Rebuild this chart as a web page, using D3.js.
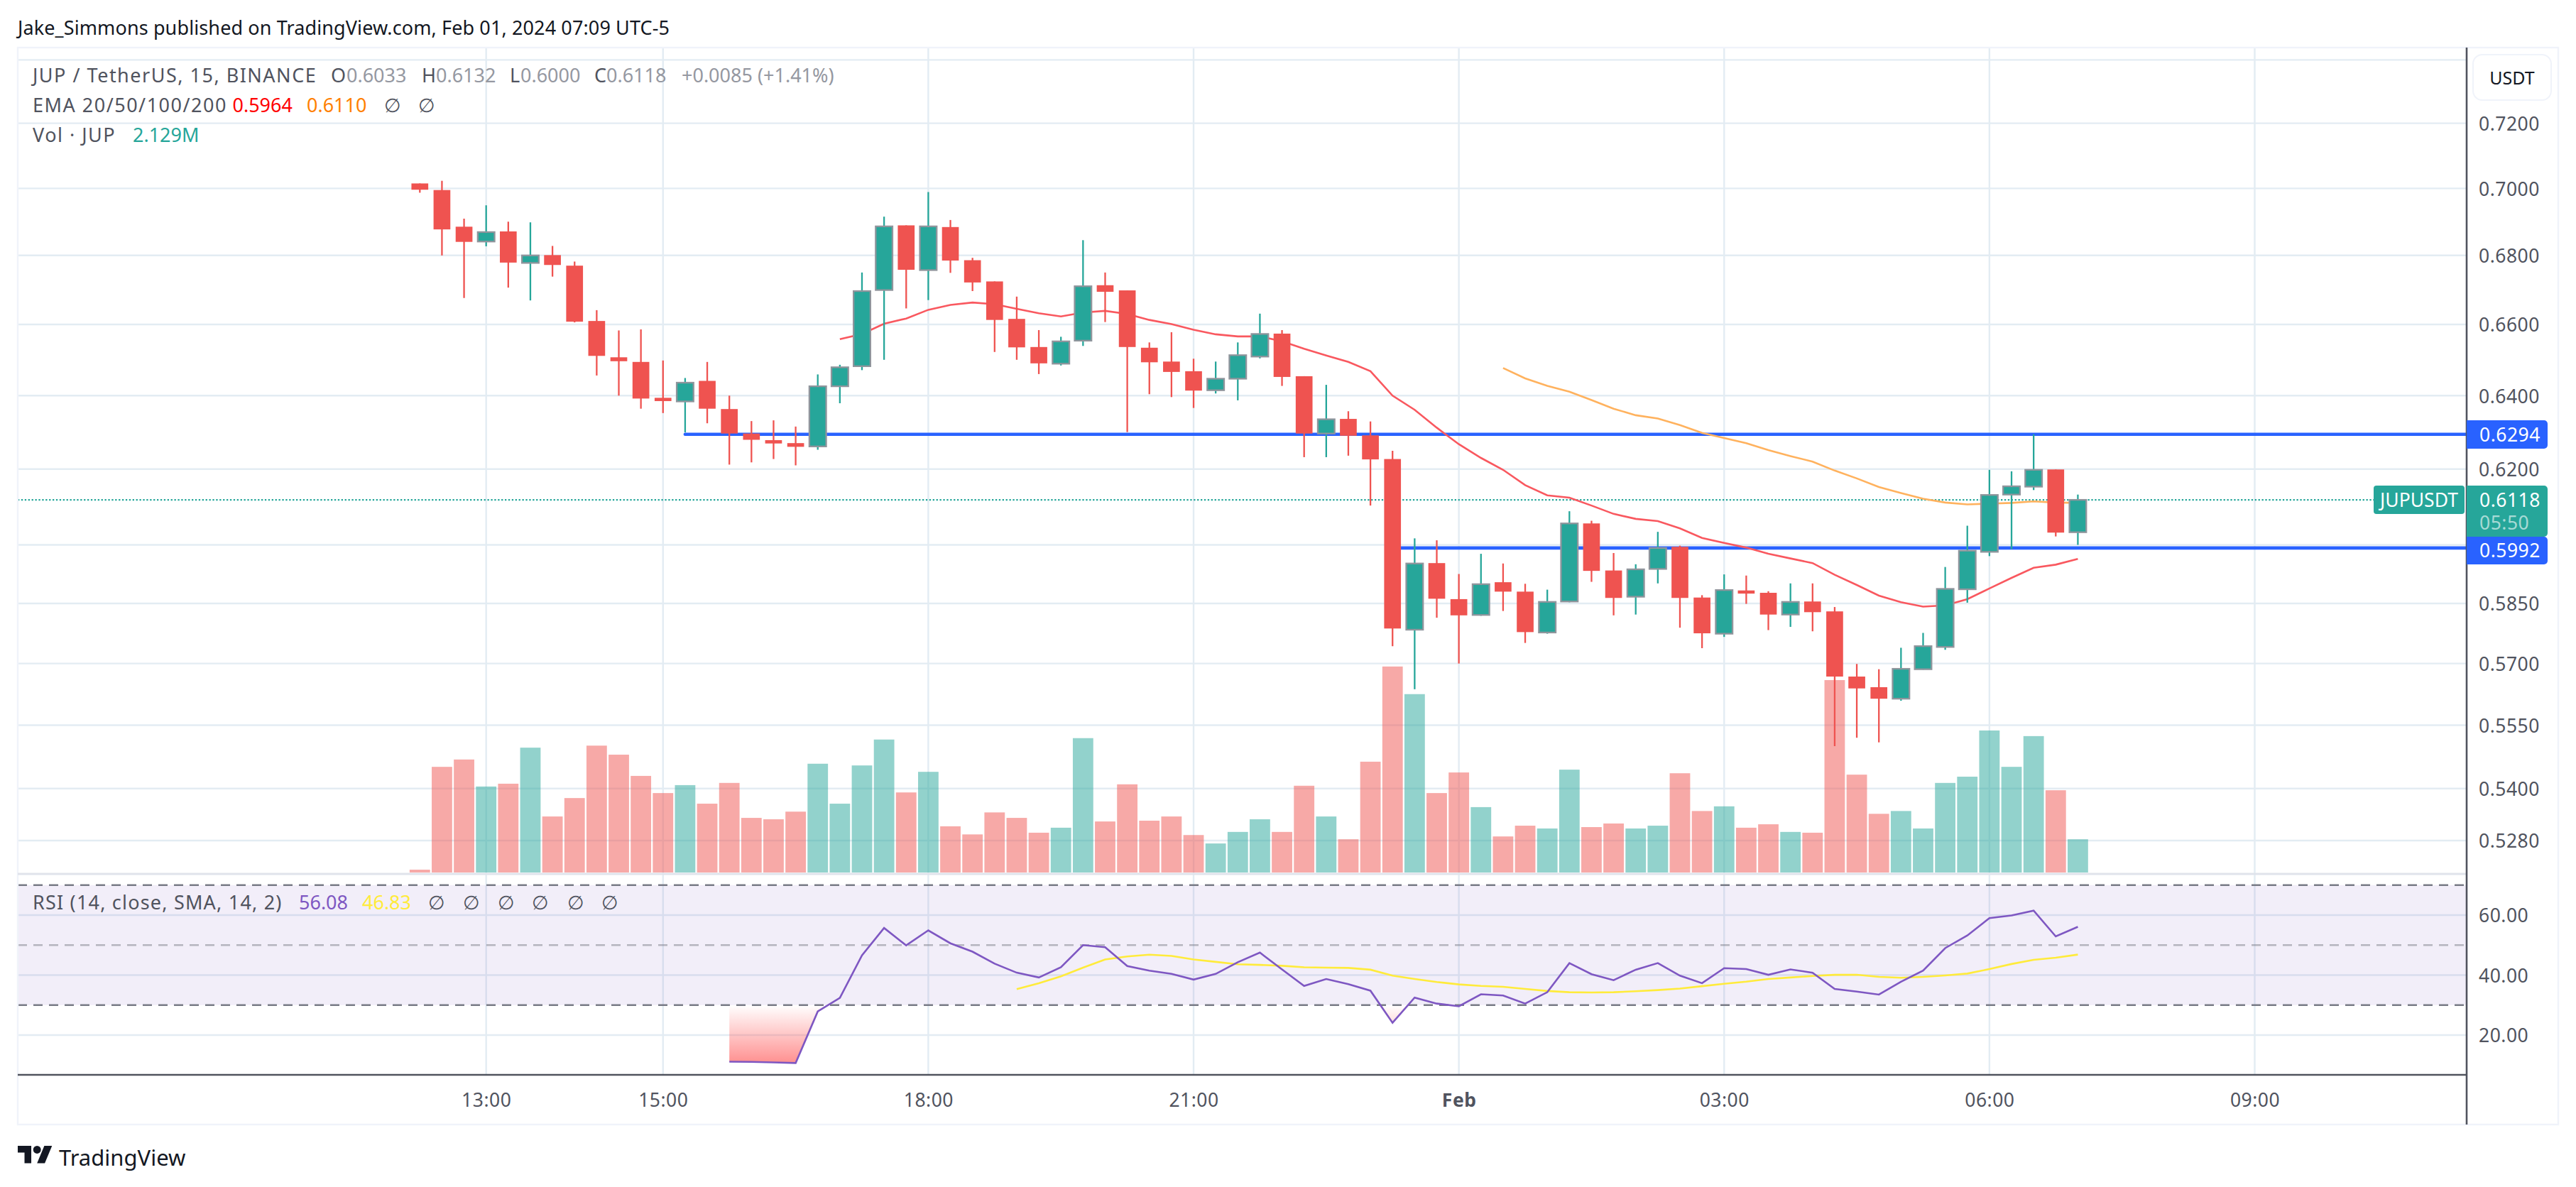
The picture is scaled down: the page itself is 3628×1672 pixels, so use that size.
<!DOCTYPE html>
<html><head><meta charset="utf-8">
<script src="https://cdnjs.cloudflare.com/ajax/libs/d3/7.8.5/d3.min.js"></script>
<style>
html,body{margin:0;padding:0;background:#fff}
svg{display:block}
text{font-family:"Noto Sans",sans-serif}
.tick text{font-family:"Noto Sans",sans-serif}
</style></head><body>
<script>
const opens=[.7015,.6995,.6885,.6841,.6871,.6778,.6801,.6770,.6610,.6507,.6494,.6394,.6384,.6441,.6363,.6296,.6278,.6270,.6261,.6426,.6482,.6699,.6889,.6757,.6884,.6786,.6724,.6616,.6536,.6489,.6554,.6713,.6698,.6534,.6495,.6468,.6415,.6447,.6509,.6574,.6454,.6296,.6336,.6291,.6227,.5784,.5953,.5861,.5821,.5904,.5880,.5777,.5855,.6056,.5934,.5867,.5938,.5995,.5865,.5774,.5883,.5877,.5822,.5855,.5830,.5668,.5642,.5614,.5686,.5741,.5886,.5982,.6132,.6153,.6199,.6033];
const highs=[.7015,.7023,.6909,.6949,.6900,.6898,.6828,.6782,.6641,.6583,.6586,.6498,.6449,.6494,.6400,.6330,.6332,.6315,.6459,.6486,.6750,.6915,.6889,.6989,.6905,.6793,.6724,.6680,.6584,.6565,.6845,.6750,.6698,.6549,.6578,.6503,.6495,.6549,.6631,.6584,.6454,.6430,.6357,.6329,.6249,.6017,.6012,.5925,.5977,.5952,.5900,.5885,.6088,.6063,.5979,.5950,.6034,.5998,.5871,.5924,.5921,.5881,.5901,.5901,.5841,.5699,.5686,.5739,.5776,.5943,.6050,.6198,.6194,.6294,.6199,.6132];
const lows=[.6987,.6800,.6676,.6827,.6706,.6669,.6738,.6606,.6456,.6400,.6364,.6352,.6299,.6324,.6212,.6218,.6227,.6210,.6252,.6379,.6471,.6500,.6646,.6670,.6749,.6696,.6522,.6500,.6460,.6484,.6539,.6607,.6300,.6404,.6396,.6366,.6406,.6387,.6504,.6427,.6232,.6232,.6236,.6103,.5743,.5637,.5814,.5700,.5819,.5831,.5751,.5774,.5853,.5905,.5820,.5822,.5901,.5789,.5738,.5766,.5849,.5783,.5791,.5780,.5500,.5520,.5509,.5609,.5685,.5734,.5852,.5971,.5989,.6144,.6022,.6000];
const closes=[.6996,.6877,.6840,.6869,.6779,.6800,.6772,.6608,.6511,.6496,.6392,.6385,.6436,.6364,.6296,.6279,.6269,.6260,.6426,.6479,.6696,.6886,.6758,.6886,.6785,.6721,.6613,.6535,.6490,.6552,.6710,.6694,.6536,.6493,.6466,.6414,.6447,.6513,.6573,.6452,.6296,.6335,.6290,.6226,.5787,.5952,.5862,.5820,.5899,.5880,.5778,.5854,.6056,.5933,.5864,.5937,.5992,.5864,.5775,.5884,.5875,.5822,.5854,.5828,.5668,.5639,.5614,.5687,.5743,.5887,.5985,.6131,.6154,.6198,.6032,.6118];
const volumes=[.18,6.77,7.24,5.51,5.69,8.00,3.59,4.77,8.13,7.55,6.19,5.09,5.60,4.41,5.74,3.50,3.41,3.90,6.97,4.41,6.86,8.52,5.13,6.45,2.96,2.44,3.85,3.50,2.55,2.87,8.61,3.27,5.65,3.32,3.59,2.40,1.86,2.60,3.41,2.60,5.56,3.59,2.13,7.10,13.20,11.43,5.09,6.41,4.19,2.31,3.00,2.82,6.59,2.91,3.14,2.82,3.00,6.36,3.94,4.24,2.87,3.09,2.60,2.55,12.33,6.27,3.76,3.94,2.82,5.74,6.14,9.10,6.77,8.74,5.27,2.129];
const n=null;
const ema20=[n,n,n,n,n,n,n,n,n,n,n,n,n,n,n,n,n,n,n,.6558,.6573,.6602,.6617,.6642,.6656,.6663,.6658,.6645,.6632,.6623,.6634,.6639,.6630,.6613,.6601,.6585,.6572,.6566,.6566,.6552,.6531,.6512,.6494,.6468,.6400,.6361,.6312,.6267,.6230,.6198,.6157,.6130,.6124,.6103,.6081,.6068,.6062,.6043,.6018,.6005,.5993,.5977,.5965,.5953,.5923,.5897,.5870,.5853,.5842,.5845,.5861,.5888,.5915,.5941,.5949,.5964];
const ema50=[n,n,n,n,n,n,n,n,n,n,n,n,n,n,n,n,n,n,n,n,n,n,n,n,n,n,n,n,n,n,n,n,n,n,n,n,n,n,n,n,n,n,n,n,n,n,n,n,n,.6477,.6448,.6427,.6411,.6388,.6364,.6346,.6337,.6319,.6298,.6284,.6270,.6251,.6235,.6220,.6196,.6175,.6152,.6136,.6121,.6111,.6106,.6108,.6110,.6114,.6111,.6110];
const rsi=[n,n,n,n,n,n,n,n,n,n,n,n,n,n,11.14,11.05,10.9,10.68,27.9,32.4,46.6,55.7,49.9,54.9,50.6,47.8,43.8,40.8,39.2,42.6,50.0,49.3,43.0,41.5,40.4,38.5,40.4,44.3,47.5,41.9,36.4,38.7,37.0,34.8,24.1,32.5,30.5,29.6,33.6,33.2,30.5,34.3,44.0,40.3,38.3,41.8,44.0,39.8,37.3,42.3,42.0,40.1,41.9,40.8,35.4,34.5,33.5,37.8,41.5,49.0,53.2,59.0,59.9,61.5,52.9,56.08];
const rsiSma=[n,n,n,n,n,n,n,n,n,n,n,n,n,n,n,n,n,n,n,n,n,n,n,n,n,n,n,35.3,37.3,39.6,42.5,45.2,46.2,46.8,46.4,45.2,44.4,43.6,43.4,43.1,42.6,42.5,42.4,41.8,39.8,38.7,37.7,36.9,36.4,36.1,35.4,34.7,34.3,34.2,34.3,34.6,35.0,35.5,36.3,37.1,37.8,38.7,39.2,39.7,40.1,40.1,39.4,39.1,39.4,39.9,40.5,42.0,43.7,45.1,45.8,46.83];
const priceTicks=[.72,.70,.68,.66,.64,.62,.585,.57,.555,.54,.528];
const priceGridOnly=[.74,.60];
const rsiTicks=[60,40,20];
const rsiBands=[70,50,30];
const hLevels=[{v:.6294,from:12},{v:.5992,from:44}];
const startTime=Date.UTC(2024,0,31,12,15);
const barMs=15*60000;
const timeTicks=[Date.UTC(2024,0,31,13),Date.UTC(2024,0,31,15),Date.UTC(2024,0,31,18),Date.UTC(2024,0,31,21),Date.UTC(2024,1,1,0),Date.UTC(2024,1,1,3),Date.UTC(2024,1,1,6),Date.UTC(2024,1,1,9)];
const timeLabels=["13:00","15:00","18:00","21:00","Feb","03:00","06:00","09:00"];
const times=opens.map((_,i)=>new Date(startTime+i*barMs));

const W=3628,H=1672,L=25,T=67,AX=3474,OR=3603,PB=1231,TA=1514,B=1584;
const GRID="#e3ecf3",AXC="#50535e",LBL="#50535e",UP="#26a69a",DN="#ef5350",BLUE="#2962ff";
const FS=26.5, LFS=27;

const svg=d3.select("body").append("svg").attr("width",W).attr("height",H).attr("viewBox",`0 0 ${W} ${H}`);
const x=d3.scaleUtc().domain([Date.UTC(2024,0,31,13),Date.UTC(2024,1,1,9)]).range([684.7,3175.5]);
const y=d3.scaleLog().domain([.72,.528]).range([173.6,1184]);
const vol=d3.scaleLinear().domain([0,2.129]).range([1229,1182.2]);
const ry=d3.scaleLinear().domain([60,20]).range([1289,1458]);
const bw=31.15;

const defs=svg.append("defs");
const lg=defs.append("linearGradient").attr("id","os").attr("gradientUnits","userSpaceOnUse").attr("x1",0).attr("x2",0).attr("y1",ry(30)).attr("y2",ry(10.5));
lg.append("stop").attr("offset",0).attr("stop-color","#ff5252").attr("stop-opacity",0);
lg.append("stop").attr("offset",1).attr("stop-color","#ff5252").attr("stop-opacity",.65);
defs.append("clipPath").attr("id","below30").append("rect").attr("x",L).attr("width",AX-L).attr("y",ry(30)).attr("height",TA-ry(30));

// horizontal grid
const gridG=svg.append("g").attr("stroke",GRID).attr("stroke-width",2.4);
gridG.selectAll(".hp").data(priceTicks.concat(priceGridOnly)).join("line").attr("x1",L).attr("x2",AX).attr("y1",d=>y(d)).attr("y2",d=>y(d));
gridG.selectAll(".hr").data(rsiTicks).join("line").attr("x1",L).attr("x2",AX).attr("y1",d=>ry(d)).attr("y2",d=>ry(d));
gridG.selectAll(".v").data(timeTicks).join("line").attr("x1",d=>x(d)).attr("x2",d=>x(d)).attr("y1",T).attr("y2",TA);

// volume
svg.append("g").selectAll("rect").data(volumes).join("rect")
 .attr("x",(d,i)=>x(times[i])-14.4).attr("width",28.8)
 .attr("y",d=>vol(d)).attr("height",d=>vol(0)-vol(d))
 .attr("fill",(d,i)=>closes[i]>=opens[i]?UP:DN).attr("fill-opacity",.5);

// horizontal levels
svg.append("g").selectAll("line").data(hLevels).join("line")
 .attr("x1",d=>x(times[d.from])).attr("x2",AX).attr("y1",d=>y(d.v)).attr("y2",d=>y(d.v))
 .attr("stroke",BLUE).attr("stroke-width",4.6).attr("stroke-linecap","round");

// last price dotted line
svg.append("line").attr("x1",L).attr("x2",3343).attr("y1",y(closes[75])).attr("y2",y(closes[75]))
 .attr("stroke",UP).attr("stroke-width",2.3).attr("stroke-dasharray","2.3 2.6");

// EMA
const pLine=d3.line().defined(d=>d.v!=null).x(d=>x(d.t)).y(d=>y(d.v));
const zip=a=>a.map((v,i)=>({v,t:times[i]}));
svg.append("path").attr("d",pLine(zip(ema20))).attr("fill","none").attr("stroke","#f9585f").attr("stroke-width",2.6);
svg.append("path").attr("d",pLine(zip(ema50))).attr("fill","none").attr("stroke","#ffb25e").attr("stroke-width",2.6);

// candles
const cg=svg.append("g");
cg.selectAll(".w").data(opens).join("line")
 .attr("x1",(d,i)=>x(times[i])).attr("x2",(d,i)=>x(times[i]))
 .attr("y1",(d,i)=>y(highs[i])).attr("y2",(d,i)=>y(lows[i]))
 .attr("stroke",(d,i)=>closes[i]>=d?UP:DN).attr("stroke-width",2.3);
cg.selectAll(".b").data(opens).join("rect")
 .attr("x",(d,i)=>x(times[i])-bw*.38).attr("width",bw*.76)
 .attr("y",(d,i)=>y(Math.max(d,closes[i]))).attr("height",(d,i)=>Math.abs(y(d)-y(closes[i])))
 .attr("fill",(d,i)=>closes[i]>=d?UP:DN)
 .attr("stroke",(d,i)=>closes[i]>=d?"#8f959c":"none").attr("stroke-width",2.3);

// RSI band
svg.append("rect").attr("x",L).attr("width",AX-L).attr("y",ry(70)).attr("height",ry(30)-ry(70)).attr("fill","#7e57c2").attr("fill-opacity",.1);
svg.append("g").selectAll("line").data(rsiBands).join("line").attr("x1",L).attr("x2",AX).attr("y1",d=>ry(d)).attr("y2",d=>ry(d))
 .attr("stroke","#787b86").attr("stroke-opacity",d=>d===50?.5:1).attr("stroke-width",2.4).attr("stroke-dasharray","13 9");
const rz=zip(rsi);
svg.append("path").attr("clip-path","url(#below30)").attr("fill","url(#os)")
 .attr("d",d3.area().defined(d=>d.v!=null).x(d=>x(d.t)).y0(ry(30)).y1(d=>ry(d.v))(rz));
const rLine=d3.line().defined(d=>d.v!=null).x(d=>x(d.t)).y(d=>ry(d.v));
svg.append("path").attr("d",rLine(zip(rsiSma))).attr("fill","none").attr("stroke","#ffeb3b").attr("stroke-width",2.6);
svg.append("path").attr("d",rLine(rz)).attr("fill","none").attr("stroke","#7e57c2").attr("stroke-width",2.6);

// frame and separators
svg.append("rect").attr("x",L).attr("y",T).attr("width",OR-L).attr("height",B-T).attr("fill","none").attr("stroke","#f0f3fa").attr("stroke-width",2.4);
svg.append("line").attr("x1",L).attr("x2",AX).attr("y1",PB).attr("y2",PB).attr("stroke","#e0e3eb").attr("stroke-width",3);
svg.append("line").attr("x1",L).attr("x2",AX).attr("y1",TA).attr("y2",TA).attr("stroke",AXC).attr("stroke-width",2.6);
svg.append("line").attr("x1",AX).attr("x2",AX).attr("y1",T).attr("y2",B).attr("stroke",AXC).attr("stroke-width",2.6);

// axes
const styleAxis=g=>{g.select(".domain").remove();g.selectAll(".tick line").remove();g.selectAll("text").attr("fill",LBL).attr("font-size",FS).attr("letter-spacing",.5);};
const priceAxis=svg.append("g").attr("transform",`translate(${AX},0)`).call(d3.axisRight(y).tickValues(priceTicks).tickFormat(d3.format(".4f")).tickSize(0).tickPadding(17)).call(styleAxis);
const rsiAxis=svg.append("g").attr("transform",`translate(${AX},0)`).call(d3.axisRight(ry).tickValues(rsiTicks).tickFormat(d3.format(".2f")).tickSize(0).tickPadding(17)).call(styleAxis);
priceAxis.selectAll("text").attr("dy",".37em");
rsiAxis.selectAll("text").attr("dy",".37em");
svg.append("g").attr("transform",`translate(0,${TA+16})`).call(d3.axisBottom(x).tickValues(timeTicks).tickFormat((d,i)=>timeLabels[i]).tickSize(0).tickPadding(10)).call(styleAxis)
 .selectAll("text").attr("font-weight",(d,i)=>timeLabels[i]==="Feb"?"bold":"normal");

// text helper
const t=(s,px,py,fill,fs=LFS,extra={})=>{const e=svg.append("text").text(s).attr("x",px).attr("y",py).attr("fill",fill).attr("font-size",fs).attr("dominant-baseline","central");for(const k in extra)e.attr(k,extra[k]);return e;};
const NM={"letter-spacing":1.5};

t("Jake_Simmons published on TradingView.com, Feb 01, 2024 07:09 UTC-5",25,38,"#131722",LFS,{"textLength":918,"lengthAdjust":"spacing"});
const GV="#9598a1",GT="#50535e";
t("JUP / TetherUS, 15, BINANCE",46,105,GT,LFS,NM);
[["O",466,"0.6033",488],["H",594,"0.6132",614],["L",718,"0.6000",733],["C",837,"0.6118",854]].forEach(r=>{t(r[0],r[1],105,GT);t(r[2],r[3],105,GV);});
t("+0.0085 (+1.41%)",960,105,GV);
t("EMA 20/50/100/200",46,147,GT,LFS,NM);
t("0.5964",327.5,147,"#ff0000");
t("0.6110",432,147,"#ff7f00");
t("∅",541,147,GT);t("∅",589,147,GT);
t("Vol · JUP",46,189,GT,LFS,NM);
t("2.129M",187,189,UP);
t("RSI (14, close, SMA, 14, 2)",46,1270,GT,LFS,{"letter-spacing":1.2});
t("56.08",421,1270,"#7e57c2");
t("46.83",510,1270,"#ffeb3b");
[603,652,701,749,799,847].forEach(p=>t("∅",p,1270,GT));

// USDT button
svg.append("rect").attr("x",3483).attr("y",77).attr("width",110).attr("height",64).attr("rx",13).attr("fill","#fff").attr("stroke","#f0f3fa").attr("stroke-width",2);
t("USDT",3538,109,"#131722",25,{"text-anchor":"middle"});

// price tags
const tag=(px,py,w,h,fill)=>svg.append("path").attr("d",`M${px},${py}h${w-5}a5,5 0 0 1 5,5v${h-10}a5,5 0 0 1 -5,5h${-(w-5)}z`).attr("fill",fill);
tag(AX,592,114,40,BLUE);
t("0.6294",3492,612,"#fff",FS,{"letter-spacing":.5});
tag(AX,684,114,72,UP);
t("0.6118",3492,704,"#fff",FS,{"letter-spacing":.5});
t("05:50",3492,736,"#fff",FS,{"fill-opacity":.6,"letter-spacing":.5});
tag(AX,756,114,39,BLUE);
t("0.5992",3492,775,"#fff",FS,{"letter-spacing":.5});
svg.append("rect").attr("x",3343).attr("y",684).attr("width",128).attr("height",40).attr("rx",4).attr("fill",UP);
t("JUPUSDT",3407,704,"#fff",FS,{"text-anchor":"middle"});

// logo
const logo=svg.append("g").attr("transform","translate(25,1614) scale(1.36)").attr("fill","#131722");
logo.append("path").attr("d","M14 18H7V7H0V0h14v18zM28 18h-8L27.5 0h8L28 18z");
logo.append("circle").attr("cx",20).attr("cy",4).attr("r",4);
t("TradingView",83,1630,"#131722",31);
</script>
</body></html>
